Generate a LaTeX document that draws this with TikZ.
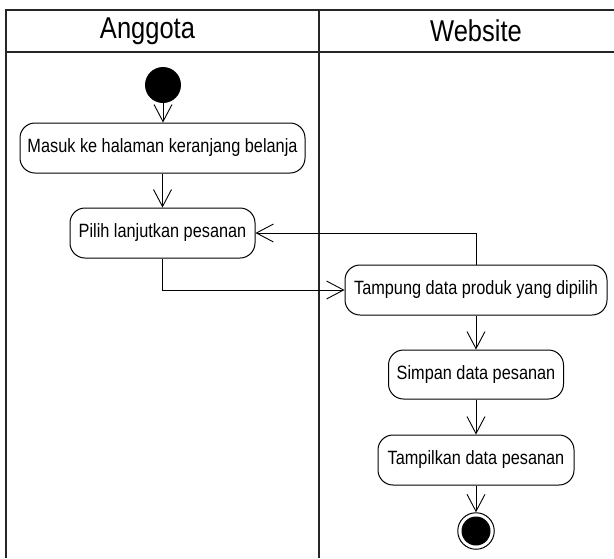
\documentclass[tikz,border=0pt]{standalone}
\usepackage{fontspec}
\setmainfont{Liberation Sans}
\usetikzlibrary{arrows.meta}
\newcommand{\actfont}{\fontsize{16.3}{18}\selectfont}
\newcommand{\hdrfont}{\fontsize{25.5}{28}\selectfont}
\newcommand{\st}[1]{\scalebox{1}[1.18]{#1}}
\tikzset{
  act/.style={draw, rounded corners=15pt, minimum height=50pt, inner sep=0pt, line width=1pt, font=\actfont},
  flow/.style={line width=0.9pt, -{Straight Barb[length=17pt,width=18pt,line width=0.9pt]}},
  lane/.style={line width=1.3pt, draw=black!85},
}
\begin{document}
\begin{tikzpicture}[x=1pt,y=-1pt]
\useasboundingbox (0,0) rectangle (614,558);
% swimlanes
\draw[lane] (6,558) -- (6,10) -- (614,10);
\draw[lane] (6,52) -- (614,52);
\draw[lane] (319,10) -- (319,558);
\node[font=\hdrfont] (h1) at (147.5,31) {\st{Anggota}};
\node[font=\hdrfont] (h2) at (476,31) {\st{Website}};
% nodes
\node[circle, fill, minimum size=36pt, inner sep=0pt] (start) at (163,85) {};
\node[act, minimum width=285pt] (b1) at (162.5,148) {\st{Masuk ke halaman keranjang belanja}};
\node[act, minimum width=185pt] (b2) at (162.5,233) {\st{Pilih lanjutkan pesanan}};
\node[act, minimum width=262pt] (b3) at (476,290) {\st{Tampung data produk yang dipilih}};
\node[act, minimum width=175pt, minimum height=49pt] (b4) at (476,374.5) {\st{Simpan data pesanan}};
\node[act, minimum width=196pt] (b5) at (476,460) {\st{Tampilkan data pesanan}};
\node[circle, draw, line width=1pt, minimum size=36.5pt, inner sep=0pt] (end) at (476,531) {};
\fill (end.center) circle (14.5pt);
% flows
\draw[flow] (start) -- (start |- b1.north);
\draw[flow] (b1) -- (b2);
\draw[flow] (b2.south) |- (b3.west);
\draw[flow] (b3.north) |- (b2.east);
\draw[flow] (b3) -- (b4);
\draw[flow] (b4) -- (b5);
\draw[flow] (b5) -- (end);
\end{tikzpicture}
\end{document}
